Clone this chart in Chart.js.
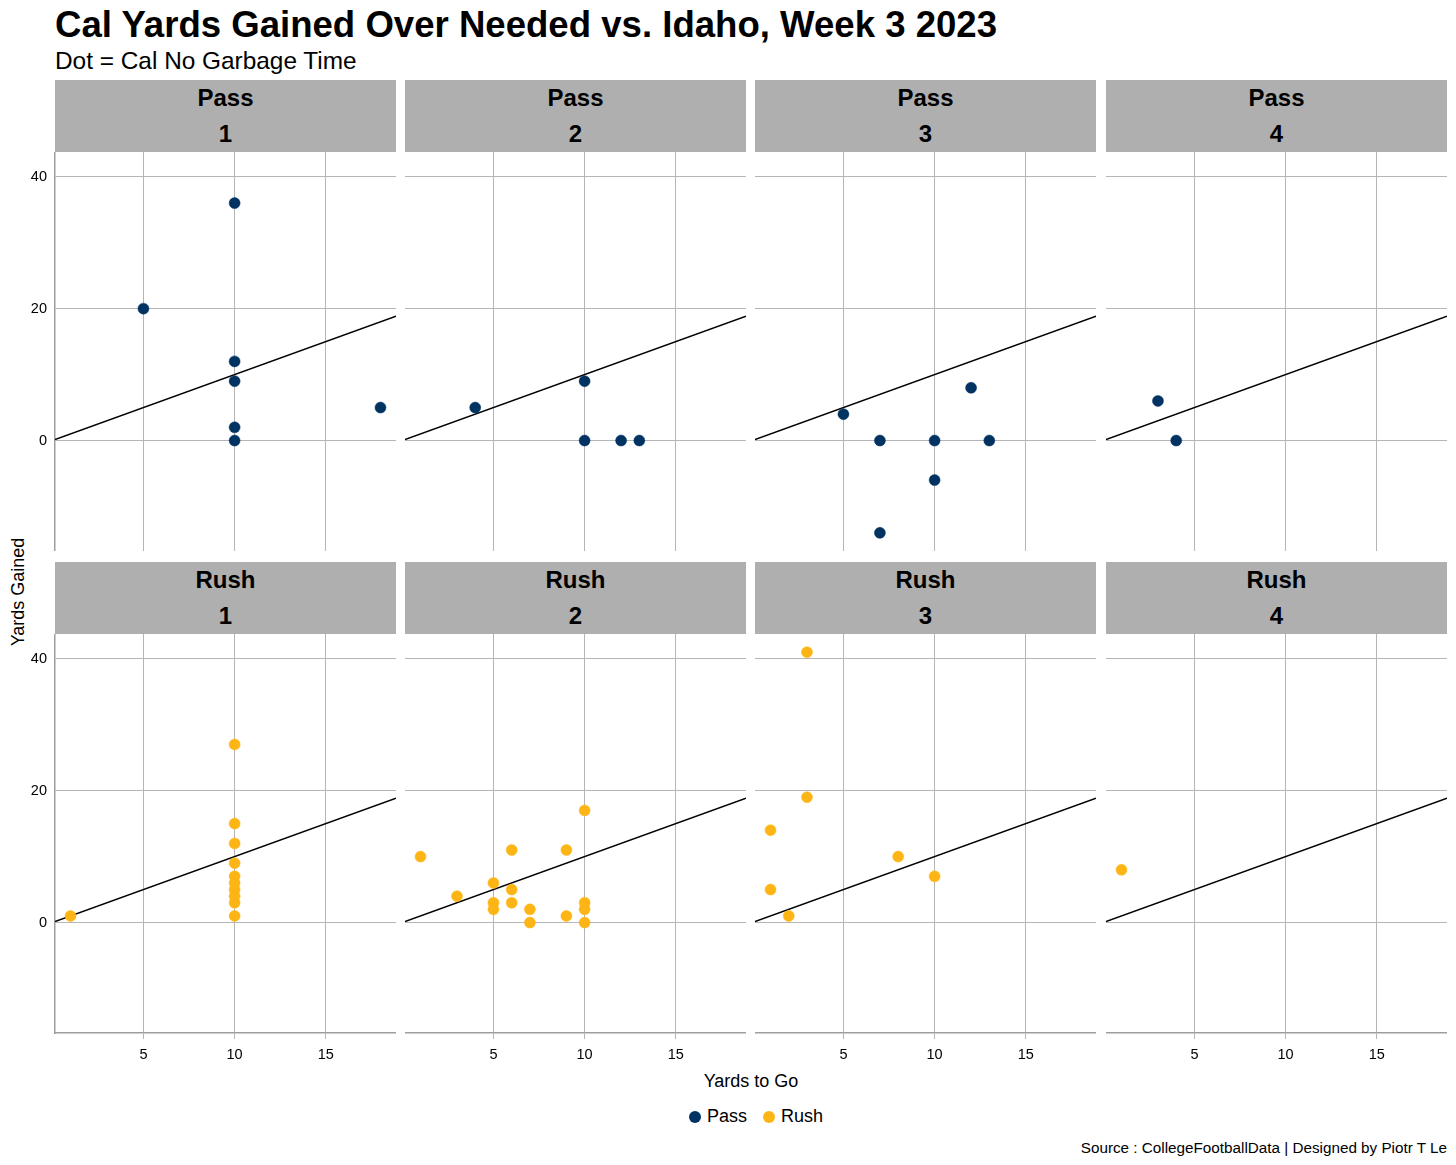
<!DOCTYPE html>
<html>
<head>
<meta charset="utf-8">
<script src="https://cdn.jsdelivr.net/npm/chart.js@4.4.1/dist/chart.umd.min.js"></script>
<style>
  body { margin: 0; background: #fff; font-family: "Liberation Sans", Arial, sans-serif; }
  #wrap { position: relative; width: 1456px; height: 1165px; overflow: hidden; }
  .title { position: absolute; left: 55px; top: 7px; font-size: 36.6px; line-height: 36px; font-weight: bold; color: #000; white-space: nowrap; }
  .subtitle { position: absolute; left: 55px; top: 49px; font-size: 24.4px; line-height: 24px; color: #000; white-space: nowrap; }
  .strip { position: absolute; height: 72px; background: #afafaf; text-align: center; font-weight: bold; font-size: 24px; line-height: 36px; color: #000; }
  .panel { position: absolute; }
  .ytitle { position: absolute; left: 18px; top: 592px; font-size: 18px; line-height: 18px; transform: translate(-50%, -50%) rotate(-90deg); white-space: nowrap; }
  .xtitle { position: absolute; left: 751px; top: 1081px; font-size: 18px; line-height: 18px; transform: translate(-50%, -50%); white-space: nowrap; }
  .legend { position: absolute; top: 1107px; font-size: 18px; line-height: 18px; white-space: nowrap; }
  .legend .dot { display: inline-block; width: 12px; height: 12px; border-radius: 50%; vertical-align: -1px; margin-right: 6px; }
  .caption { position: absolute; right: 9px; top: 1140px; font-size: 15.25px; line-height: 15px; white-space: nowrap; }
</style>
</head>
<body>
<div id="wrap">
  <div class="title">Cal Yards Gained Over Needed vs. Idaho, Week 3 2023</div>
  <div class="subtitle">Dot = Cal No Garbage Time</div>
  <div class="ytitle">Yards Gained</div>
  <div class="xtitle">Yards to Go</div>
  <div class="legend" id="legend" style="left:689px"></div>
  <div class="caption">Source : CollegeFootballData | Designed by Piotr T Le</div>
</div>
<script>
// facets: play type x down
const playTypes = ['Pass', 'Rush'];
const downs = [1, 2, 3, 4];
const typeColors = { Pass: '#003262', Rush: '#FDB515' };

// [distance, yards gained] per panel
const pass1 = [[5, 20], [10, 36], [10, 12], [10, 9], [10, 2], [10, 0], [18, 5]];
const pass2 = [[4, 5], [10, 9], [10, 0], [12, 0], [13, 0]];
const pass3 = [[5, 4], [7, 0], [10, 0], [12, 8], [13, 0], [10, -6], [7, -14]];
const pass4 = [[3, 6], [4, 0]];
const rush1 = [[1, 1], [10, 27], [10, 15], [10, 12], [10, 9], [10, 7], [10, 6], [10, 5], [10, 4], [10, 3], [10, 1]];
const rush2 = [[1, 10], [3, 4], [5, 6], [5, 3], [5, 2], [6, 11], [6, 5], [6, 3], [7, 2], [7, 0], [9, 11], [9, 1], [10, 17], [10, 3], [10, 2], [10, 0]];
const rush3 = [[3, 41], [3, 19], [1, 14], [1, 5], [2, 1], [8, 10], [10, 7]];
const rush4 = [[1, 8]];

const panelData = {
  Pass: [pass1, pass2, pass3, pass4],
  Rush: [rush1, rush2, rush3, rush4]
};

const xTicks = [5, 10, 15];
const yTicks = [0, 20, 40];
const xLimits = [0.15, 18.85];
const yLimits = [-16.75, 43.75];

// panel geometry
const colLeft = [55, 405, 755, 1106];
const rowTop = [152, 634];
const plotW = 341;
const plotH = 399;
const yAxisW = 55;
const xAxisH = 40;

const wrap = document.getElementById('wrap');
const gridColor = '#b5b5b5';
const axisColor = '#9e9e9e';

playTypes.forEach((type, r) => {
  downs.forEach((down, c) => {
    // strip label
    const strip = document.createElement('div');
    strip.className = 'strip';
    strip.style.left = colLeft[c] + 'px';
    strip.style.top = (rowTop[r] - 72) + 'px';
    strip.style.width = plotW + 'px';
    strip.innerHTML = type + '<br>' + down;
    wrap.appendChild(strip);

    const showY = c === 0;
    const showX = r === playTypes.length - 1;
    const padL = showY ? yAxisW : 0;
    const padB = showX ? xAxisH : 0;

    const box = document.createElement('div');
    box.className = 'panel';
    box.style.left = (colLeft[c] - padL) + 'px';
    box.style.top = rowTop[r] + 'px';
    box.style.width = (plotW + padL) + 'px';
    box.style.height = (plotH + padB) + 'px';
    const canvas = document.createElement('canvas');
    box.appendChild(canvas);
    wrap.appendChild(box);

    const pts = panelData[type][c].map(p => ({ x: p[0], y: p[1] }));

    new Chart(canvas.getContext('2d'), {
      type: 'scatter',
      data: {
        datasets: [
          {
            // y = x reference line across the panel
            type: 'line',
            data: [{ x: xLimits[0], y: xLimits[0] }, { x: xLimits[1], y: xLimits[1] }],
            borderColor: '#000',
            borderWidth: 1.4,
            pointRadius: 0,
            fill: false,
            order: 2
          },
          {
            data: pts,
            backgroundColor: typeColors[type],
            borderColor: typeColors[type],
            borderWidth: 0.5,
            pointRadius: 5.5,
            order: 1
          }
        ]
      },
      options: {
        responsive: true,
        maintainAspectRatio: false,
        animation: false,
        events: [],
        layout: { padding: 0, autoPadding: false },
        plugins: { legend: { display: false }, tooltip: { enabled: false } },
        scales: {
          x: {
            type: 'linear',
            min: xLimits[0],
            max: xLimits[1],
            afterBuildTicks: s => { s.ticks = xTicks.map(v => ({ value: v })); },
            afterFit: s => { s.height = padB; s.paddingLeft = 0; s.paddingRight = 0; },
            grid: { color: gridColor, lineWidth: 1, drawTicks: showX, tickLength: 6, tickColor: gridColor },
            border: { display: showX, color: axisColor, width: 1.5 },
            ticks: {
              display: showX,
              padding: 7,
              color: '#000',
              font: { family: 'Liberation Sans, Arial', size: 14.5 },
              maxRotation: 0
            }
          },
          y: {
            type: 'linear',
            min: yLimits[0],
            max: yLimits[1],
            afterBuildTicks: s => { s.ticks = yTicks.map(v => ({ value: v })); },
            afterFit: s => { s.width = padL; s.paddingTop = 0; s.paddingBottom = 0; },
            grid: { color: gridColor, lineWidth: 1, drawTicks: false },
            border: { display: showY, color: axisColor, width: 1.5 },
            ticks: {
              display: showY,
              padding: 8,
              color: '#000',
              font: { family: 'Liberation Sans, Arial', size: 14.5 }
            }
          }
        }
      }
    });
  });
});

// shared legend
const legend = document.getElementById('legend');
legend.innerHTML = playTypes.map(t =>
  '<span style="margin-right:16px"><span class="dot" style="background:' + typeColors[t] + '"></span>' + t + '</span>'
).join('');
</script>
</body>
</html>
